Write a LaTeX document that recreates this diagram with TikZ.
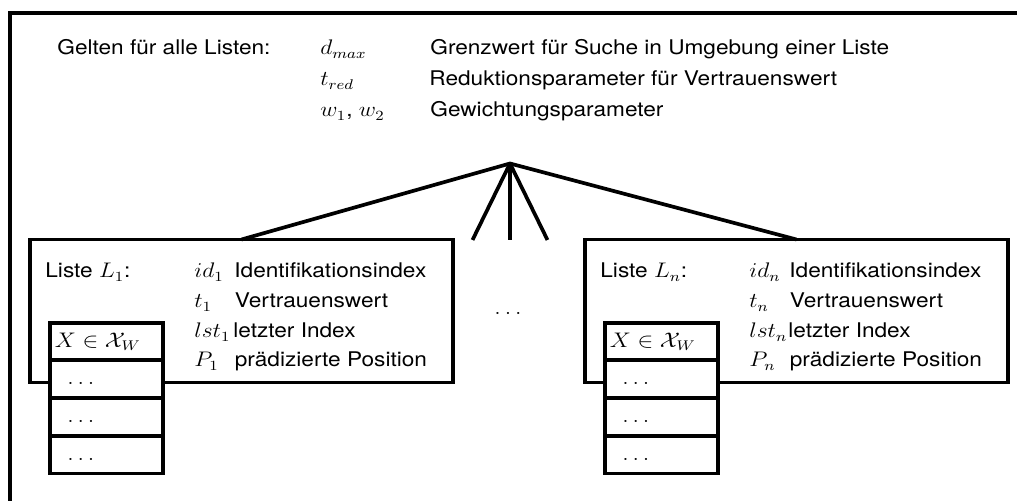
\documentclass[tikz,border=0pt]{standalone}
\usepackage[no-math]{fontspec}
\setsansfont{TeX Gyre Heros}
\usetikzlibrary{positioning}

\begin{document}
\begin{tikzpicture}[node distance=1cm,
    every node/.style={font=\sffamily\fontsize{11.5}{13.5}\selectfont},
    txt/.style={anchor=base west,inner sep=0pt,xscale=1.12},
    listbox/.style={rectangle,draw,line width=2.2pt,outer sep=0pt,minimum width=8.46cm,minimum height=2.86cm},
    cell/.style={rectangle,draw,fill=white,line width=2.2pt,outer sep=0pt,xscale=1.12,
        minimum width=2.02cm,minimum height=0.754cm,text width=1.84cm,inner xsep=0.09cm,
        align=left,text height=2ex,text depth=0.5ex},
    link/.style={line width=2.1pt}]
    \useasboundingbox (0,0) rectangle (20.34,10.02);
    \clip (0,0) rectangle (20.34,10.02);
    % outer frame (only top and left edge lie on the page)
    \draw[line width=2.4pt] (0.2,-1) rectangle (21,9.76);

    % parameters shared by all lists
    \node[txt] (allg) at (1.14,8.92) {Gelten für alle Listen:};
    \node[txt] (dmax) at (6.4,8.92) {$d_{max}$};
    \node[txt] (dmaxd) at (8.6,8.92) {Grenzwert für Suche in Umgebung einer Liste};
    \node[txt] (tred) at (6.4,8.30) {$t_{red}$};
    \node[txt] (tredd) at (8.58,8.30) {Reduktionsparameter für Vertrauenswert};
    \node[txt] (wgt) at (6.4,7.68) {$w_1$, $w_2$};
    \node[txt] (wgtd) at (8.6,7.68) {Gewichtungsparameter};

    % the lists
    \node[listbox] (list1) at (4.83,3.8) {};
    \node[listbox,right=2.64cm of list1] (listn) {};

    \coordinate (top) at (10.2,6.75);
    \coordinate (m1) at (9.45,5.22);
    \coordinate (m2) at (10.2,5.22);
    \coordinate (m3) at (10.95,5.22);
    \draw[link] (list1.north) -- (top) -- (listn.north);
    \draw[link] (top) -- (m1) (top) -- (m2) (top) -- (m3);
    \node[txt,anchor=center] (gap) at (10.16,3.76) {$\dots$};

    % list 1
    \node[txt] (name1) at (0.9,4.46) {Liste $L_1$:};
    \node[txt] (id1) at (3.88,4.46) {$id_1$};
    \node[txt] (id1d) at (4.68,4.46) {Identifikationsindex};
    \node[txt] (t1) at (3.88,3.86) {$t_1$};
    \node[txt] (t1d) at (4.69,3.86) {Vertrauenswert};
    \node[txt] (lst1) at (3.88,3.26) {$lst_1$};
    \node[txt] (lst1d) at (4.66,3.26) {letzter Index};
    \node[txt] (p1) at (3.88,2.68) {$P_1$};
    \node[txt] (p1d) at (4.69,2.68) {prädizierte Position};
    \node[cell] (w1a) at (2.13,3.19) {$X \in \mathcal{X}_W$};
    \node[cell,below=0pt of w1a] (w1b) {\hspace*{0.22cm}$\dots$};
    \node[cell,below=0pt of w1b] (w1c) {\hspace*{0.22cm}$\dots$};
    \node[cell,below=0pt of w1c] (w1d) {\hspace*{0.22cm}$\dots$};

    % list n
    \node[txt] (namen) at (12.0,4.46) {Liste $L_n$:};
    \node[txt] (idn) at (14.98,4.46) {$id_n$};
    \node[txt] (idnd) at (15.78,4.46) {Identifikationsindex};
    \node[txt] (tn) at (14.98,3.86) {$t_n$};
    \node[txt] (tnd) at (15.79,3.86) {Vertrauenswert};
    \node[txt] (lstn) at (14.98,3.26) {$lst_n$};
    \node[txt] (lstnd) at (15.76,3.26) {letzter Index};
    \node[txt] (pn) at (14.98,2.68) {$P_n$};
    \node[txt] (pnd) at (15.79,2.68) {prädizierte Position};
    \node[cell] (wna) at (13.23,3.19) {$X \in \mathcal{X}_W$};
    \node[cell,below=0pt of wna] (wnb) {\hspace*{0.22cm}$\dots$};
    \node[cell,below=0pt of wnb] (wnc) {\hspace*{0.22cm}$\dots$};
    \node[cell,below=0pt of wnc] (wnd) {\hspace*{0.22cm}$\dots$};
\end{tikzpicture}
\end{document}
